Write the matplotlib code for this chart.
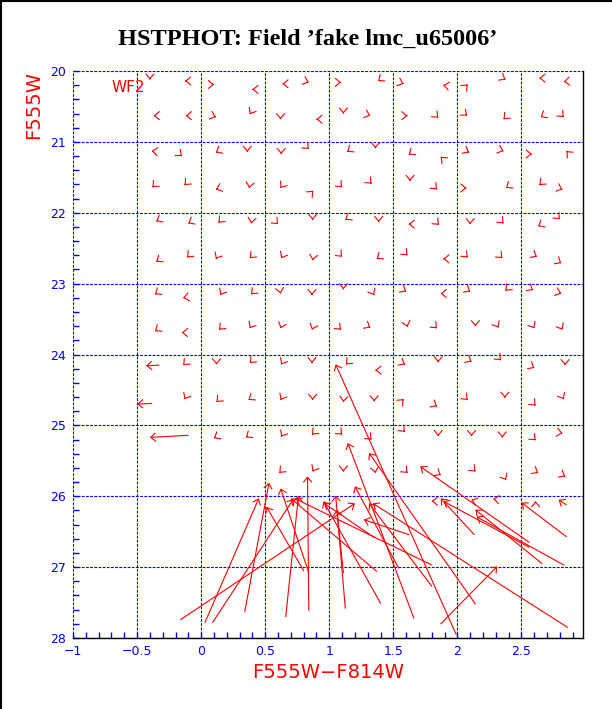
import numpy as np
import matplotlib
matplotlib.use("Agg")
import matplotlib.pyplot as plt
from matplotlib.patches import FancyArrowPatch, ArrowStyle
from matplotlib.lines import Line2D
from matplotlib.ticker import MultipleLocator, FixedLocator, FixedFormatter

# recovered position (colour, magnitude) of fake stars that moved very little,
# with the display direction (degrees) of the tiny offset vector
small_col = [
    -0.40, -0.125, 0.10, 0.40, 0.635, 0.84, 1.09, 1.38, 1.58, 1.89, 2.08, 2.375, 2.64, 2.83,
    -0.37, -0.12, 0.115, 0.38, 0.62, 0.90, 1.11, 1.32, 1.61, 1.85, 2.075, 2.36, 2.65, 2.83,
    -0.385, -0.15, 0.115, 0.36, 0.625, 0.84, 1.14, 1.36, 1.62, 1.87, 2.09, 2.36, 2.58, 2.85,
    -0.38, -0.13, 0.115, 0.375, 0.62, 0.875, 1.10, 1.33, 1.63, 1.84, 2.07, 2.38, 2.64, 2.82,
    -0.35, -0.10, 0.135, 0.39, 0.60, 0.87, 1.125, 1.385, 1.62, 1.855, 2.10, 2.36, 2.63, 2.80,
    -0.35, -0.11, 0.115, 0.38, 0.625, 0.87, 1.10, 1.37, 1.61, 1.89, 2.08, 2.35, 2.62, 2.81,
    -0.36, -0.14, 0.15, 0.39, 0.62, 0.865, 1.11, 1.35, 1.60, 1.87, 2.10, 2.375, 2.59, 2.81,
    -0.36, -0.15, 0.14, 0.38, 0.62, 0.865, 1.09, 1.32, 1.61, 1.84, 2.14, 2.32, 2.60, 2.82,
    -0.14, 0.12, 0.38, 0.625, 0.865, 1.13, 1.36, 1.59, 1.85, 2.11, 2.34, 2.60, 2.84,
    -0.13, 0.12, 0.37, 0.62, 0.87, 1.11, 1.35, 1.58, 1.84, 2.08, 2.37, 2.61, 2.83,
    0.10, 0.35, 0.625, 0.865, 1.10, 1.33, 1.59, 1.85, 2.11, 2.35, 2.61, 2.82,
    0.61, 0.87, 1.11, 1.36, 1.61, 1.87, 2.14, 2.38, 2.63, 2.84,
    1.80, 2.11, 2.28, 2.61,
]
small_mag = [
    20.12, 20.14, 20.19, 20.26, 20.18, 20.16, 20.16, 20.14, 20.18, 20.20, 20.19, 20.12, 20.10, 20.15,
    20.63, 20.63, 20.65, 20.61, 20.68, 20.68, 20.60, 20.63, 20.63, 20.66, 20.63, 20.68, 20.65, 20.65,
    21.13, 21.20, 21.15, 21.14, 21.17, 21.10, 21.14, 21.09, 21.18, 21.21, 21.15, 21.13, 21.17, 21.13,
    21.64, 21.61, 21.67, 21.65, 21.65, 21.69, 21.64, 21.59, 21.55, 21.67, 21.65, 21.65, 21.61, 21.67,
    22.12, 22.15, 22.14, 22.15, 22.16, 22.10, 22.10, 22.13, 22.16, 22.17, 22.16, 22.15, 22.19, 22.09,
    22.69, 22.63, 22.65, 22.64, 22.64, 22.67, 22.62, 22.65, 22.60, 22.65, 22.63, 22.64, 22.62, 22.71,
    23.15, 23.20, 23.16, 23.15, 23.14, 23.16, 23.08, 23.16, 23.11, 23.14, 23.11, 23.10, 23.09, 23.14,
    23.67, 23.69, 23.65, 23.63, 23.63, 23.65, 23.65, 23.62, 23.61, 23.63, 23.60, 23.62, 23.63, 23.65,
    24.15, 24.14, 24.12, 24.14, 24.12, 24.14, 24.22, 24.14, 24.11, 24.10, 24.08, 24.19, 24.15,
    24.63, 24.67, 24.64, 24.64, 24.64, 24.67, 24.66, 24.63, 24.73, 24.64, 24.61, 24.72, 24.63,
    25.18, 25.17, 25.16, 25.13, 25.13, 25.20, 25.09, 25.15, 25.15, 25.17, 25.21, 25.11,
    25.67, 25.65, 25.65, 25.67, 25.67, 25.70, 25.65, 25.77, 25.67, 25.72,
    26.07, 26.05, 26.04, 26.07,
]
small_dir = [
    270, 180, 0, 180, 180, 340, 0, 215, 340, 170, 45, 330, 180, 185,
    180, 180, 340, 240, 270, 180, 270, 340, 0, 315, 320, 225, 210, 315,
    175, 320, 210, 270, 270, 315, 215, 270, 215, 135, 330, 340, 0, 135,
    225, 225, 200, 260, 235, 45, 315, 315, 270, 315, 0, 215, 225, 340,
    210, 210, 225, 260, 315, 270, 215, 270, 180, 315, 270, 315, 210, 315,
    215, 225, 240, 225, 240, 260, 315, 215, 315, 180, 315, 315, 330, 330,
    215, 190, 240, 225, 280, 270, 270, 300, 330, 180, 330, 225, 330, 340,
    215, 180, 225, 240, 250, 250, 315, 330, 285, 315, 270, 300, 300, 300,
    225, 270, 225, 240, 270, 225, 180, 330, 270, 330, 315, 330, 270,
    240, 225, 215, 240, 270, 265, 270, 45, 330, 315, 270, 315, 300,
    210, 215, 240, 225, 315, 315, 315, 270, 270, 270, 315, 350,
    225, 240, 270, 280, 315, 330, 315, 300, 330, 330,
    180, 160, 175, 90,
]

# fake stars with a visible shift: input (col_in, mag_in) -> recovered (col_out, mag_out)
col_in = [-0.33, -0.385, -0.10, 2.85,
          -0.16, 0.03, 0.09, 0.34, 0.66, 0.84, 1.125, 1.11, 1.40, 0.84, 0.80,
          1.37, 1.54, 1.66, 1.35, 1.99, 2.14, 2.56, 2.13, 2.56, 2.66, 2.83,
          2.85, 2.86, 1.80, 1.80, 1.87, 1.62]
mag_in = [24.15, 24.69, 25.14, 26.12,
          27.74, 27.78, 27.78, 27.63, 27.70, 27.61, 27.58, 27.08, 27.51, 27.08, 27.05,
          27.06, 27.01, 27.72, 26.58, 27.95, 27.52, 26.65, 26.54, 26.72, 26.95, 26.97,
          26.57, 27.85, 27.27, 26.97, 27.80, 26.54]
col_out = [-0.43, -0.50, -0.40, 2.79,
           1.20, 0.45, 0.72, 0.53, 0.76, 0.83, 1.05, 1.06, 0.955, 0.62, 0.51,
           0.70, 1.20, 1.145, 0.96, 1.05, 1.31, 1.71, 1.87, 1.89, 2.14, 2.15,
           2.50, 1.34, 1.31, 0.74, 2.31, 1.27]
mag_out = [24.16, 24.70, 25.17, 26.05,
           26.10, 26.03, 26.04, 25.81, 25.99, 25.72, 25.99, 26.19, 26.07, 25.89, 26.15,
           26.03, 25.86, 25.25, 26.10, 24.14, 25.39, 25.58, 26.03, 26.07, 26.19, 26.29,
           26.09, 26.10, 26.10, 26.04, 26.99, 26.33]

x_major = [-1, -0.5, 0, 0.5, 1, 1.5, 2, 2.5]
x_labels = ["\u22121", "\u22120.5", "0", "0.5", "1", "1.5", "2", "2.5"]
y_major = [20, 21, 22, 23, 24, 25, 26, 27, 28]

plt.rcParams["font.family"] = ["DejaVu Sans"]
plt.rcParams["lines.scale_dashes"] = False

fig = plt.figure(figsize=(6.12, 7.09), dpi=100)
ax = fig.add_axes([73 / 612, 1 - 638 / 709, 510 / 612, 567 / 709])
ax.set_xlim(-1, 2.98)
ax.set_ylim(28, 20)

ax.xaxis.set_major_locator(FixedLocator(x_major))
ax.xaxis.set_major_formatter(FixedFormatter(x_labels))
ax.xaxis.set_minor_locator(MultipleLocator(0.1))
ax.yaxis.set_major_locator(FixedLocator(y_major))
ax.yaxis.set_minor_locator(MultipleLocator(0.2))
ax.tick_params(which="both", direction="in", length=4, width=1, color="blue",
               top=False, right=False)
ax.tick_params(axis="both", which="major", labelsize=9, labelcolor="blue", pad=5)

ax.grid(which="major", color="blue", linestyle=(0, (2, 1)), linewidth=0.8)
for side in ["top", "left"]:
    ax.spines[side].set_visible(False)
for side in ["bottom", "right"]:
    ax.spines[side].set_color("black")
    ax.spines[side].set_linewidth(1.0)
ax.set_axisbelow(True)

ax.set_xlabel("F555W\u2212F814W", color="red", fontsize=14, labelpad=4)
ax.set_ylabel("F555W", color="red", fontsize=14, loc="top", labelpad=5)
ax.text(-0.70, 20.23, "WF2", color="red", fontsize=11, ha="left", va="center")

style = ArrowStyle("->", head_length=3.4, head_width=2.9)


def add_arrow(p0, p1):
    arrow = FancyArrowPatch(posA=p0, posB=p1, arrowstyle=style, mutation_scale=1,
                            shrinkA=0, shrinkB=0, color="red", linewidth=0.8)
    ax.add_patch(arrow)


# tiny offsets: step back one pixel from the tip along the drawn direction
to_disp = ax.transData
to_data = ax.transData.inverted()
for c, m, a in zip(small_col, small_mag, small_dir):
    tip = to_disp.transform((c, m))
    rad = np.deg2rad(a)
    tail = tip - np.array([np.cos(rad), np.sin(rad)]) * 1.0
    add_arrow(tuple(to_data.transform(tail)), (c, m))

for c0, m0, c1, m1 in zip(col_in, mag_in, col_out, mag_out):
    add_arrow((c0, m0), (c1, m1))

fig.text(0.503, 1 - 45 / 709, "HSTPHOT: Field \u2019fake lmc_u65006\u2019",
         ha="center", va="baseline", fontsize=17.5, fontweight="bold",
         family=["Liberation Serif", "DejaVu Serif"])

fig.add_artist(Line2D([0.0015, 0.0015], [0, 1], transform=fig.transFigure,
                      color="black", linewidth=1.5))
fig.add_artist(Line2D([0, 1], [0.9985, 0.9985], transform=fig.transFigure,
                      color="black", linewidth=1.5))

fig.savefig("out.png", dpi=100)
